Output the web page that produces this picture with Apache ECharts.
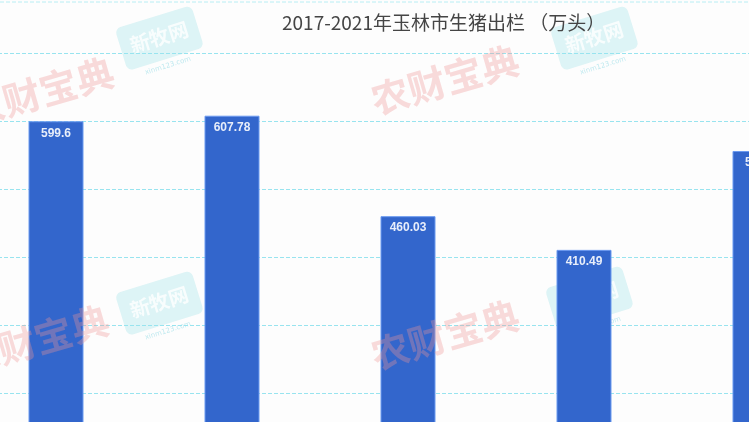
<!DOCTYPE html>
<html>
<head>
<meta charset="utf-8">
<script src="https://cdn.jsdelivr.net/npm/echarts@6/dist/echarts.min.js"></script>
<style>
html,body{margin:0;padding:0;width:749px;height:422px;overflow:hidden;background:#fdfdfd;position:relative;}
#c{position:absolute;left:-132px;top:0;width:1080px;height:600px;}
</style>
</head>
<body>
<div id="c"></div>
<script>
var categories = ['2017', '2018', '2019', '2020', '2021'];
var values = [599.6, 607.78, 460.03, 410.49, 555.9];
var titleText = '2017-2021年玉林市生猪出栏 （万头）';
var OX = 132; // container offset

function redMark(x, y) {
  return {
    type: 'text', x: x + OX, y: y, rotation: 0.28, z: 100, silent: true,
    style: { text: '农财宝典', font: 'bold 38px "Noto Sans CJK SC"', fill: 'rgba(240,150,150,0.33)', align: 'center', verticalAlign: 'middle' }
  };
}
function cyanMark(x, y) {
  return {
    type: 'group', x: x + OX, y: y, rotation: 0.3, z: 100, silent: true,
    children: [
      { type: 'rect', shape: { x: -40, y: -24, width: 80, height: 44, r: 6 }, style: { fill: 'rgba(160,225,232,0.35)' } },
      { type: 'text', style: { text: '新牧网', x: 0, y: -3, font: 'bold 20px "Noto Sans CJK SC"', fill: 'rgba(255,255,255,0.8)', align: 'center', verticalAlign: 'middle' } },
      { type: 'text', style: { text: 'xinm123.com', x: 0, y: 27, font: '7px "DejaVu Sans"', fill: 'rgba(150,220,230,0.6)', align: 'center', verticalAlign: 'middle' } }
    ]
  };
}

var chart = echarts.init(document.getElementById('c'));
chart.setOption({
  backgroundColor: '#fdfdfd',
  animation: false,
  title: {
    text: titleText,
    left: 277 + OX, top: 8,
    textStyle: { fontSize: 19, fontWeight: 'normal', color: '#454545', fontFamily: '"Noto Sans CJK SC"' }
  },
  grid: { left: 100, right: 100, top: 53, bottom: 71 },
  xAxis: {
    type: 'category', data: categories,
    axisLine: { show: false }, axisTick: { show: false }, axisLabel: { show: false }
  },
  yAxis: {
    type: 'value', min: 0, max: 700, interval: 100,
    axisLine: { show: false }, axisTick: { show: false }, axisLabel: { show: false },
    splitLine: { lineStyle: { color: '#98e4ef', type: [4, 2], width: 1 } }
  },
  series: [{
    type: 'bar', data: values, barWidth: 55,
    itemStyle: { color: '#3366cc', borderColor: '#6b9af0', borderWidth: 1 },
    label: {
      show: true, position: 'insideTop', distance: 6,
      color: '#e8eefa', fontSize: 12, fontWeight: 'bold', fontFamily: '"Liberation Sans", Arial'
    }
  }],
  graphic: [
    { type: 'line', z: 0, silent: true, shape: { x1: 0, y1: 2, x2: 1080, y2: 2 }, style: { stroke: '#b8eef4', lineDash: [4, 2], lineWidth: 1 } },
    redMark(40, 92), redMark(445, 80), redMark(35, 340), redMark(445, 335),
    cyanMark(160, 40), cyanMark(595, 40), cyanMark(160, 305), cyanMark(590, 300)
  ]
});
</script>
</body>
</html>
